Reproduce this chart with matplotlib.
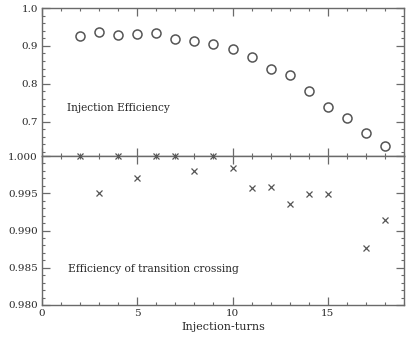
import matplotlib.pyplot as plt
from matplotlib.ticker import MultipleLocator, FormatStrFormatter

# injection efficiency per number of injection turns
inj_turns = [2, 3, 4, 5, 6, 7, 8, 9, 10, 11, 12, 13, 14, 15, 16, 17, 18]
inj_eff = [0.925, 0.938, 0.929, 0.931, 0.933, 0.918, 0.913, 0.904, 0.893,
           0.870, 0.839, 0.824, 0.781, 0.739, 0.710, 0.670, 0.635]

# transition crossing efficiency (no point at 16 turns)
cross_turns = [2, 3, 4, 5, 6, 7, 8, 9, 10, 11, 12, 13, 14, 15, 17, 18]
cross_eff = [1.000, 0.995, 1.000, 0.997, 1.000, 1.000, 0.998, 1.000, 0.9984,
             0.9957, 0.9959, 0.9935, 0.9949, 0.9949, 0.9876, 0.9914]

line_col = '#6a6a6a'
text_col = '#2a2a2a'
font = 'DejaVu Serif'

fig = plt.figure(figsize=(4.16, 3.37), dpi=100)
ax1 = fig.add_axes([0.101, 0.537, 0.870, 0.439])
ax2 = fig.add_axes([0.101, 0.095, 0.870, 0.442], sharex=ax1)

ax1.plot(inj_turns, inj_eff, 'o', ms=6.5, mfc='none', mec='#555555', mew=1.1)
ax2.plot(cross_turns, cross_eff, 'x', ms=5, mec='#555555', mew=0.9,
         clip_on=False, zorder=5)

ax1.set_xlim(0, 19)
ax1.set_ylim(0.609, 1.0)
ax2.set_ylim(0.980, 1.000)

for ax in (ax1, ax2):
    ax.xaxis.set_major_locator(MultipleLocator(5))
    ax.xaxis.set_minor_locator(MultipleLocator(1))
    ax.tick_params(which='both', direction='in', top=True, right=True,
                   color=line_col, labelcolor=text_col, labelsize=7.5, pad=3)
    ax.tick_params(which='major', length=6, width=0.9)
    ax.tick_params(which='minor', length=2.5, width=0.8)
    for s in ax.spines.values():
        s.set_color(line_col)
        s.set_linewidth(1.0)

ax1.yaxis.set_major_locator(MultipleLocator(0.1))
ax1.yaxis.set_minor_locator(MultipleLocator(0.02))
ax1.yaxis.set_major_formatter(FormatStrFormatter('%.1f'))
ax1.tick_params(labelbottom=False)

ax2.yaxis.set_major_locator(MultipleLocator(0.005))
ax2.yaxis.set_minor_locator(MultipleLocator(0.001))
ax2.yaxis.set_major_formatter(FormatStrFormatter('%.3f'))

for lab in ax1.get_yticklabels() + ax2.get_yticklabels() + ax2.get_xticklabels():
    lab.set_family(font)

ax1.text(1.3, 0.736, 'Injection Efficiency', fontsize=7.6, family=font,
         color=text_col, va='center')
ax2.text(1.35, 0.9848, 'Efficiency of transition crossing', fontsize=7.7,
         family=font, color=text_col, va='center')
ax2.set_xlabel('Injection-turns', fontsize=8, family=font, color=text_col,
               labelpad=3)

fig.savefig('out.png', dpi=100)
